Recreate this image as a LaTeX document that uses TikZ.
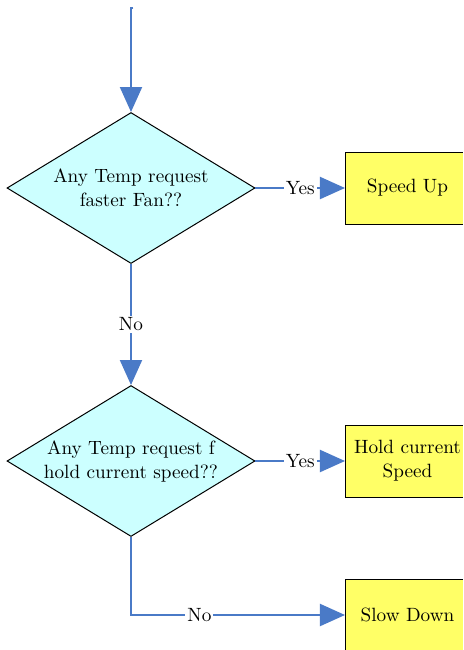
\documentclass[tikz,border=0pt]{standalone}
\usepackage{tikz}
\usetikzlibrary{arrows.meta, shapes.geometric, positioning}
\usepackage{color}
\definecolor{lineblue}{rgb}{0.29, 0.48, 0.78}
\definecolor{boxyellow}{rgb}{1, 1, 0.4}
\definecolor{diacyan}{rgb}{0.8, 1, 1}

\begin{document}
\begin{tikzpicture}[x=0.5pt, y=-0.5pt,
		every node/.style={font=\fontsize{9.6}{12}\selectfont},
		decision/.style={diamond, draw=black, line width=0.5pt, fill=diacyan, aspect=1.64, inner sep=0pt, minimum width=124pt, minimum height=75.5pt, align=center},
		action/.style={rectangle, draw=black, line width=0.5pt, fill=boxyellow, minimum width=62pt, minimum height=36pt, align=center},
		flow/.style={draw=lineblue, line width=1pt, -{Triangle[length=12.5pt, width=11pt]}},
		lbl/.style={fill=white, inner sep=1pt}]
		\clip (0,0) rectangle (463,650);
		
		\coordinate (in) at (133.5,8);
		\node [decision] (faster) at (131,188) {Any Temp request\\faster Fan??};
		\node [decision] (hold) at (131,461) {Any Temp request f\\hold current speed??};
		
		\node [action, anchor=west] (speedup) at (345,188) {Speed Up};
		\node [action, anchor=west] (holdspeed) at (345,461) {Hold current\\Speed};
		\node [action, anchor=west] (slowdown) at (345,615) {Slow Down};
		
		\draw [flow] (in) -| (faster.north);
		\draw [flow] (faster.east) -- node [lbl] {Yes} (speedup.west);
		\draw [flow] (faster.south) -- node [lbl] {No} (hold.north);
		\draw [flow] (hold.east) -- node [lbl] {Yes} (holdspeed.west);
		\draw [flow] (hold.south) |- node [lbl, pos=0.66] {No} (slowdown.west);
	\end{tikzpicture}
\end{document}
